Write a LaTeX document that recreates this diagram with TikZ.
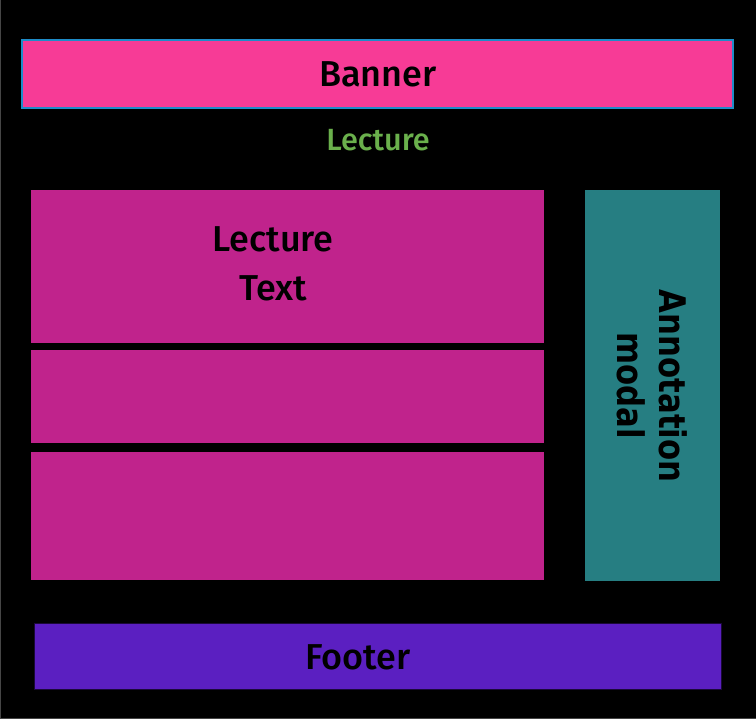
\documentclass[tikz,border=0pt]{standalone}
\usepackage{fontspec}
\setmainfont{Fira Sans}[BoldFont={Fira Sans Medium}]
\newfontfamily\annfont{DejaVu Sans}[FakeStretch=0.84]
\definecolor{bannerpink}{RGB}{247,59,150}
\definecolor{bannerline}{RGB}{30,140,200}
\definecolor{lecgreen}{RGB}{106,176,76}
\definecolor{panelmag}{RGB}{192,35,140}
\definecolor{annteal}{RGB}{38,126,130}
\definecolor{footviolet}{RGB}{91,31,193}
\definecolor{framegrey}{RGB}{70,70,70}
\begin{document}
\begin{tikzpicture}[x=0.75pt,y=-0.75pt,
  label/.style={font=\bfseries\fontsize{27}{36}\selectfont, text=black, align=center, inner sep=0pt}]
  % page background
  \fill[black] (0,0) rectangle (756,719);
  \useasboundingbox (0,0) rectangle (756,719);
  \draw[framegrey, line width=0.9pt] (0.5,0) -- (0.5,718.3) -- (756,718.3);

  % layout regions
  \path[fill=bannerpink, draw=bannerline, line width=1.2pt] (22,40) rectangle (733,108);
  \path[fill=panelmag] (31,190) rectangle (544,343);
  \path[fill=panelmag] (31,350) rectangle (544,443);
  \path[fill=panelmag] (31,452) rectangle (544,580);
  \path[fill=annteal] (585,190) rectangle (720,581);
  \path[fill=footviolet, draw=black!70!footviolet, line width=0.6pt] (34,623) rectangle (721,689);

  % labels
  \node[label] (banner) at (378,74) {Banner};
  \node[font=\bfseries\fontsize{23}{28}\selectfont, text=lecgreen, inner sep=0pt] (lecture) at (378,140) {Lecture};
  \node[label] (lecturetext) at (273,264) {Lecture\\[1pt]Text};
  \node[font=\annfont\bfseries\fontsize{27.5}{32}\selectfont, text=black, align=center, rotate=-90, inner sep=0pt] (annotation) at (652,386) {Annotation\\modal};
  \node[label] (footer) at (358,657) {Footer};
\end{tikzpicture}
\end{document}
